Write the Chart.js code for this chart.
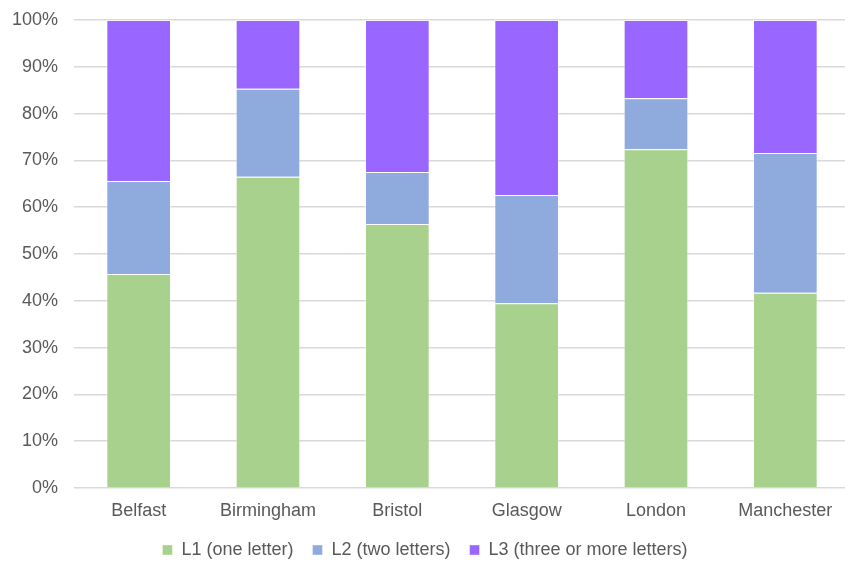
<!DOCTYPE html>
<html>
<head>
<meta charset="utf-8">
<script src="https://cdn.jsdelivr.net/npm/chart.js@4"></script>
<style>
    html, body { margin: 0; padding: 0; background: #fff; overflow: hidden; }
    #wrap { width: 851px; height: 562px; }
</style>
</head>
<body>
<div id="wrap"><canvas id="letterChart"></canvas></div>
<script>
// Chart data
const cities = ['Belfast', 'Birmingham', 'Bristol', 'Glasgow', 'London', 'Manchester'];
const oneLetter = [45.7, 66.5, 56.4, 39.5, 72.4, 41.7];
const twoLetters = [19.9, 18.8, 11.1, 23.1, 10.9, 29.9];
const threePlus = [34.4, 14.7, 32.5, 37.4, 16.7, 28.4];
const yTicks = [0, 10, 20, 30, 40, 50, 60, 70, 80, 90, 100];

Chart.defaults.font.family = '"Liberation Sans", Arial, sans-serif';
Chart.defaults.font.size = 18;
Chart.defaults.color = '#595959';

const ctx = document.getElementById('letterChart').getContext('2d');

new Chart(ctx, {
    type: 'bar',
    data: {
        labels: cities,
        datasets: [
            {
                label: 'L1 (one letter)',
                data: oneLetter,
                backgroundColor: '#a9d18e',
                borderColor: 'rgba(255,255,255,0.4)',
                borderWidth: 1
            },
            {
                label: 'L2 (two letters)',
                data: twoLetters,
                backgroundColor: '#8faadc',
                borderColor: 'rgba(255,255,255,0.4)',
                borderWidth: 1
            },
            {
                label: 'L3 (three or more letters)',
                data: threePlus,
                backgroundColor: '#9966ff',
                borderColor: 'rgba(255,255,255,0.4)',
                borderWidth: 1
            }
        ]
    },
    options: {
        responsive: true,
        maintainAspectRatio: false,
        animation: false,
        categoryPercentage: 1,
        barPercentage: 0.5,
        layout: { padding: { top: 20, right: 1, bottom: 0, left: 0 } },
        plugins: {
            legend: {
                position: 'bottom',
                maxHeight: 40,
                labels: { boxWidth: 10, boxHeight: 10, padding: 19, color: '#595959' }
            },
            tooltip: { enabled: false }
        },
        scales: {
            x: {
                stacked: true,
                grid: { display: false },
                border: { display: false },
                ticks: { padding: 4 },
                afterFit: (scale) => { scale.height = 34; }
            },
            y: {
                stacked: true,
                min: 0,
                max: 100,
                afterBuildTicks: (scale) => { scale.ticks = yTicks.map(v => ({ value: v })); },
                afterFit: (scale) => {
                    scale.width = 74;
                    scale.paddingTop = 0;
                    scale.paddingBottom = 0;
                },
                grid: { color: '#d9d9d9', lineWidth: 1.5, drawTicks: false },
                border: { display: false },
                ticks: { padding: 16, callback: (v) => v + '%' }
            }
        }
    }
});
</script>
</body>
</html>
